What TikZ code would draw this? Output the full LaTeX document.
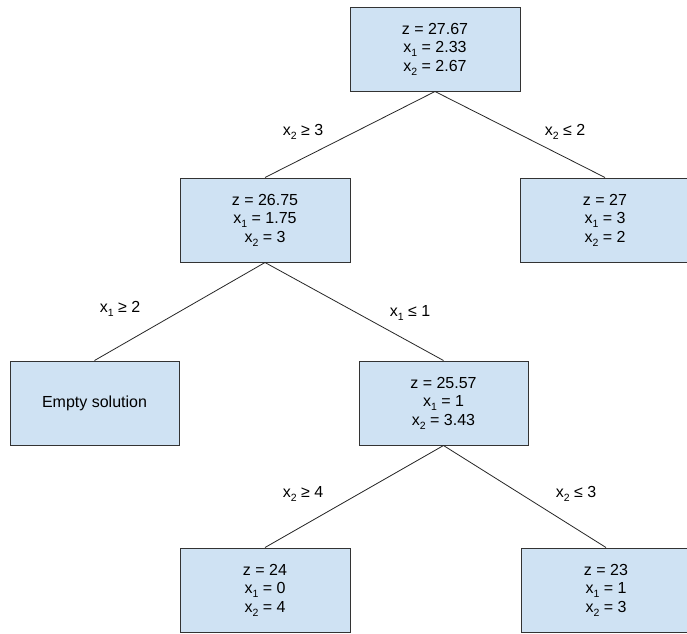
\documentclass[tikz,border=0pt]{standalone}
\usepackage{fontspec}
\setmainfont{Liberation Sans}
\definecolor{boxfill}{HTML}{CFE2F3}
\definecolor{boxline}{HTML}{333333}
\newcommand{\lowsub}[1]{\raisebox{-0.45ex}{\fontsize{10.5}{10.5}\selectfont #1}}
\begin{document}
\begin{tikzpicture}[x=1pt,y=-1pt,
  treebox/.style={draw=boxline,line width=1pt,fill=boxfill,minimum width=170pt,
    minimum height=84pt,inner sep=0pt,align=center,
    font=\fontsize{16}{18.6}\selectfont},
  edge/.style={draw=black!85,line width=0.8pt},
  cond/.style={font=\fontsize{16}{18.6}\selectfont,inner sep=0pt}]
\useasboundingbox (0,0) rectangle (687,633);
\clip (0,0) rectangle (687,633);
\fill[white] (0,0) rectangle (687,633);

% nodes of the branch-and-bound tree
\node[treebox] (root) at (435,49) {z = 27.67\\x\lowsub{1} = 2.33\\x\lowsub{2} = 2.67};
\node[treebox] (l) at (265,220) {z = 26.75\\x\lowsub{1} = 1.75\\x\lowsub{2} = 3};
\node[treebox] (r) at (605,220) {z = 27\\x\lowsub{1} = 3\\x\lowsub{2} = 2};
\node[treebox,minimum width=169pt] (ll) at (94.5,403) {Empty solution};
\node[treebox,minimum width=169pt] (lr) at (443.5,403) {z = 25.57\\x\lowsub{1} = 1\\x\lowsub{2} = 3.43};
\node[treebox] (lrl) at (265,590) {z = 24\\x\lowsub{1} = 0\\x\lowsub{2} = 4};
\node[treebox] (lrr) at (606,590) {z = 23\\x\lowsub{1} = 1\\x\lowsub{2} = 3};

% branches
\draw[edge] (root.south) -- (l.north);
\draw[edge] (root.south) -- (r.north);
\draw[edge] (l.south) -- (ll.north);
\draw[edge] (l.south) -- (lr.north);
\draw[edge] (lr.south) -- (lrl.north);
\draw[edge] (lr.south) -- (lrr.north);

% branching constraints
\node[cond] (c1) at (303,132) {x\lowsub{2} ≥ 3};
\node[cond] (c2) at (565,132) {x\lowsub{2} ≤ 2};
\node[cond] (c3) at (120,309) {x\lowsub{1} ≥ 2};
\node[cond] (c4) at (410,313) {x\lowsub{1} ≤ 1};
\node[cond] (c5) at (303,494) {x\lowsub{2} ≥ 4};
\node[cond] (c6) at (576,494) {x\lowsub{2} ≤ 3};
\end{tikzpicture}
\end{document}
